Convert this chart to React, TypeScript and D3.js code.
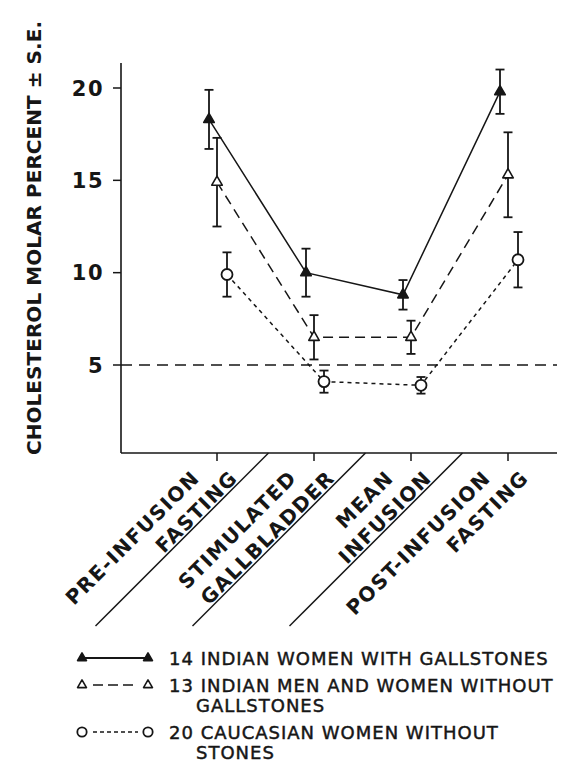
import React, { useRef, useEffect } from 'react';
import * as d3 from 'd3';

// categories on the x axis (two lines each)
const categories = ['pre', 'stim', 'mean', 'post'];
const categoryLabels = [
  ['PRE-INFUSION', 'FASTING'],
  ['STIMULATED', 'GALLBLADDER'],
  ['MEAN', 'INFUSION'],
  ['POST-INFUSION', 'FASTING'],
];

// cholesterol molar percent, mean and S.E.
const gallstoneMean = [18.3, 10.0, 8.8, 19.8];
const gallstoneSE = [1.6, 1.3, 0.8, 1.2];
const indianNoStoneMean = [14.9, 6.5, 6.5, 15.3];
const indianNoStoneSE = [2.4, 1.2, 0.9, 2.3];
const caucasianMean = [9.9, 4.1, 3.9, 10.7];
const caucasianSE = [1.2, 0.6, 0.45, 1.5];

const yTicks = [5, 10, 15, 20];
const referenceValue = 5;

const legendLabels = [
  ['14 INDIAN WOMEN WITH GALLSTONES'],
  ['13 INDIAN MEN AND WOMEN WITHOUT', 'GALLSTONES'],
  ['20 CAUCASIAN WOMEN WITHOUT', 'STONES'],
];

const W = 561;
const H = 763;
const FONT = '"DejaVu Sans", sans-serif';
const INK = '#161616';

const App: React.FC = () => {
  const svgRef = useRef<SVGSVGElement>(null);

  useEffect(() => {
    if (!svgRef.current) return;
    const svg = d3.select(svgRef.current);
    svg.selectAll('*').remove();

    const axisX = 121;
    const axisTop = 63;
    const axisBottom = 453;
    const axisRight = 557;

    const x = d3.scalePoint<string>().domain(categories).range([217, 508]);
    const y = d3.scaleLinear().domain([5, 20]).range([365, 88]);

    const g = svg.append('g');

    // axes
    g.append('line')
      .attr('x1', axisX).attr('x2', axisX)
      .attr('y1', axisTop).attr('y2', axisBottom)
      .attr('stroke', INK).attr('stroke-width', 1.6);
    g.append('line')
      .attr('x1', axisX).attr('x2', axisRight)
      .attr('y1', axisBottom).attr('y2', axisBottom)
      .attr('stroke', INK).attr('stroke-width', 1.6);

    // y ticks
    yTicks.forEach(t => {
      g.append('line')
        .attr('x1', axisX - 8).attr('x2', axisX)
        .attr('y1', y(t)).attr('y2', y(t))
        .attr('stroke', INK).attr('stroke-width', 1.5);
      g.append('text')
        .attr('x', axisX - 17).attr('y', y(t) + 7.5)
        .attr('text-anchor', 'end')
        .attr('font-family', FONT).attr('font-size', 21).attr('font-weight', 'bold')
        .attr('letter-spacing', 1.5)
        .attr('fill', INK)
        .text(t);
    });

    // y label
    g.append('text')
      .attr('transform', `translate(41, 238) rotate(-90)`)
      .attr('text-anchor', 'middle')
      .attr('font-family', FONT).attr('font-size', 20).attr('font-weight', 'bold')
      .attr('textLength', 434).attr('lengthAdjust', 'spacing')
      .attr('fill', INK)
      .text('CHOLESTEROL MOLAR PERCENT  \u00B1 S.E.');

    // reference line
    g.append('line')
      .attr('x1', axisX).attr('x2', axisRight)
      .attr('y1', y(referenceValue)).attr('y2', y(referenceValue))
      .attr('stroke', INK).attr('stroke-width', 1.4)
      .attr('stroke-dasharray', '11,7');

    // x ticks, separators and labels
    categories.forEach((c, i) => {
      const cx = x(c)!;
      g.append('line')
        .attr('x1', cx).attr('x2', cx)
        .attr('y1', axisBottom).attr('y2', axisBottom + 8)
        .attr('stroke', INK).attr('stroke-width', 1.5);
      if (i < categories.length - 1) {
        const sx = (cx + x(categories[i + 1])!) / 2 + 3;
        g.append('line')
          .attr('x1', sx).attr('y1', axisBottom)
          .attr('x2', sx - 173).attr('y2', axisBottom + 173)
          .attr('stroke', INK).attr('stroke-width', 1.5);
      }
      const [l1, l2] = categoryLabels[i];
      [[l1, -16], [l2, 22]].forEach(([txt, dx]) => {
        g.append('text')
          .attr('transform', `translate(${cx + (dx as number)}, 479) rotate(-45)`)
          .attr('text-anchor', 'end')
          .attr('font-family', FONT).attr('font-size', 20).attr('font-weight', 'bold')
          .attr('letter-spacing', 1.5)
          .attr('fill', INK)
          .text(txt as string);
      });
    });

    // series
    const series = [
      { mean: gallstoneMean, se: gallstoneSE, dx: -8, dash: null, marker: 'filledTri' },
      { mean: indianNoStoneMean, se: indianNoStoneSE, dx: 0, dash: '10,6', marker: 'openTri' },
      { mean: caucasianMean, se: caucasianSE, dx: 10, dash: '4,4', marker: 'circle' },
    ];

    const drawMarker = (sel: d3.Selection<SVGGElement, unknown, null, undefined>, kind: string, px: number, py: number, scale = 1) => {
      if (kind === 'circle') {
        sel.append('circle')
          .attr('cx', px).attr('cy', py).attr('r', 5.5 * scale)
          .attr('fill', '#fff').attr('stroke', INK).attr('stroke-width', 1.8);
      } else {
        const tri = d3.symbol().type(d3.symbolTriangle).size(48 * scale * scale);
        sel.append('path')
          .attr('d', tri()!)
          .attr('transform', `translate(${px},${py})`)
          .attr('fill', kind === 'filledTri' ? INK : '#fff')
          .attr('stroke', INK).attr('stroke-width', 1.6)
          .attr('stroke-linejoin', 'round');
      }
    };

    series.forEach(s => {
      const sg = g.append('g');
      const pts = s.mean.map((m, i) => [x(categories[i])! + s.dx, y(m)] as [number, number]);
      sg.append('path')
        .attr('d', d3.line()(pts)!)
        .attr('fill', 'none')
        .attr('stroke', INK).attr('stroke-width', 1.5)
        .attr('stroke-dasharray', s.dash);
      s.mean.forEach((m, i) => {
        const px = x(categories[i])! + s.dx;
        const top = y(m + s.se[i]);
        const bot = y(m - s.se[i]);
        sg.append('line').attr('x1', px).attr('x2', px).attr('y1', top).attr('y2', bot)
          .attr('stroke', INK).attr('stroke-width', 1.8);
        [top, bot].forEach(yy => {
          sg.append('line').attr('x1', px - 4.5).attr('x2', px + 4.5).attr('y1', yy).attr('y2', yy)
            .attr('stroke', INK).attr('stroke-width', 1.8);
        });
      });
      s.mean.forEach((m, i) => drawMarker(sg, s.marker, x(categories[i])! + s.dx, y(m)));
    });

    // legend
    const legendRows = [658, 685, 732];
    const legendDash = [null, '10,5', '4,3'];
    legendRows.forEach((ry, i) => {
      const s = series[i];
      const lg = g.append('g');
      lg.append('line')
        .attr('x1', i === 0 ? 82 : 93).attr('x2', i === 0 ? 148 : 138).attr('y1', ry).attr('y2', ry)
        .attr('stroke', INK).attr('stroke-width', i === 0 ? 2 : 1.6)
        .attr('stroke-dasharray', legendDash[i]);
      drawMarker(lg, s.marker, 82, ry, 0.85);
      drawMarker(lg, s.marker, 148, ry, 0.85);
      legendLabels[i].forEach((txt, j) => {
        lg.append('text')
          .attr('x', j === 0 ? 169 : 196)
          .attr('y', ry + 6.5 + j * 20)
          .attr('font-family', FONT).attr('font-size', 18)
          .attr('letter-spacing', 1)
          .attr('fill', INK).attr('stroke', INK).attr('stroke-width', 0.45)
          .text(txt);
      });
    });
  }, []);

  return (
    <svg
      ref={svgRef}
      width={W}
      height={H}
      style={{ position: 'absolute', left: 0, top: 0, background: '#fff' }}
    />
  );
};

export default App;
